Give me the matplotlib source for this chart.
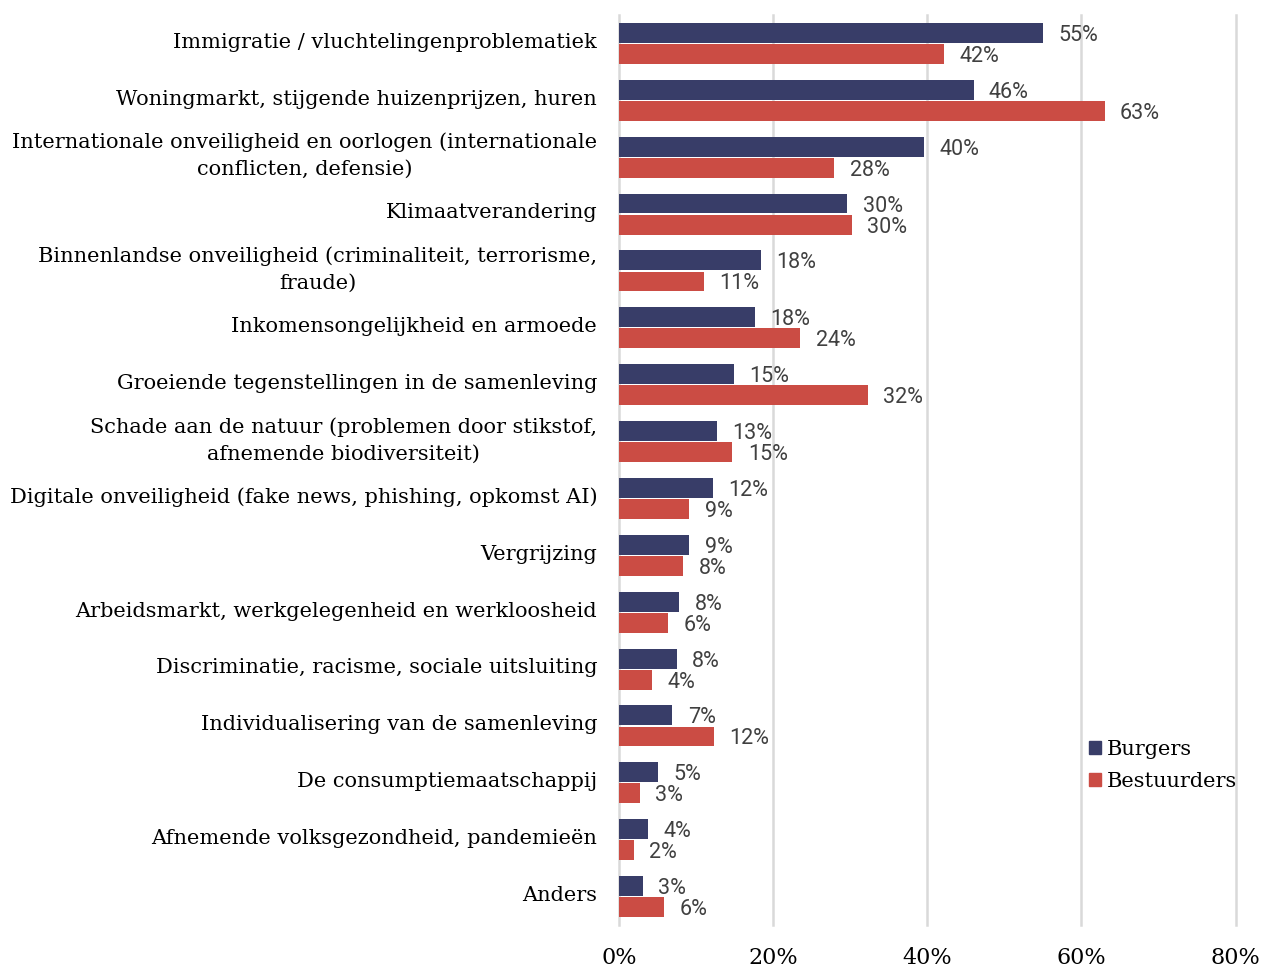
import numpy as np
import matplotlib
matplotlib.use('Agg')
import matplotlib.pyplot as plt
from matplotlib.patches import Patch

categories = [
    'Immigratie / vluchtelingenproblematiek',
    'Woningmarkt, stijgende huizenprijzen, huren',
    'Internationale onveiligheid en oorlogen (internationale\nconflicten, defensie)',
    'Klimaatverandering',
    'Binnenlandse onveiligheid (criminaliteit, terrorisme,\nfraude)',
    'Inkomensongelijkheid en armoede',
    'Groeiende tegenstellingen in de samenleving',
    'Schade aan de natuur (problemen door stikstof,\nafnemende biodiversiteit)',
    'Digitale onveiligheid (fake news, phishing, opkomst AI)',
    'Vergrijzing',
    'Arbeidsmarkt, werkgelegenheid en werkloosheid',
    'Discriminatie, racisme, sociale uitsluiting',
    'Individualisering van de samenleving',
    'De consumptiemaatschappij',
    'Afnemende volksgezondheid, pandemieën',
    'Anders',
]
burgers = [55.0, 46.0, 39.6, 29.6, 18.4, 17.6, 14.9, 12.7, 12.2, 9.1, 7.8, 7.5, 6.9, 5.1, 3.8, 3.1]
bestuurders = [42.2, 63.0, 27.9, 30.2, 11.0, 23.5, 32.3, 14.7, 9.1, 8.3, 6.4, 4.3, 12.3, 2.7, 1.9, 5.8]
series_names = ['Burgers', 'Bestuurders']
xticks = [0, 20, 40, 60, 80]

navy = '#383D68'
red = '#CB4C44'
serif = 'DejaVu Serif'
sans = 'Roboto'

fig = plt.figure(figsize=(12.66, 9.67), dpi=100)
ax = fig.add_axes([0.489, 0.0434, 0.976 - 0.489, 0.9845 - 0.0434])

y = np.arange(len(categories))
h = 0.35
off = 0.185
ax.barh(y - off, burgers, height=h, color=navy)
ax.barh(y + off, bestuurders, height=h, color=red)

for i in range(len(categories)):
    ax.text(burgers[i] + 2, y[i] - off, f'{round(burgers[i])}%', va='center_baseline', ha='left',
            fontsize=15.5, color='#404040', family=sans)
    ax.text(bestuurders[i] + 2, y[i] + off, f'{round(bestuurders[i])}%', va='center_baseline', ha='left',
            fontsize=15.5, color='#404040', family=sans)

# category labels, right aligned next to the axis
ylab_tr = ax.get_yaxis_transform()
for i, cat in enumerate(categories):
    ax.text(-0.0355, y[i] - 0.02, cat, transform=ylab_tr, ha='right', va='center',
            multialignment='center', linespacing=1.52, family=serif, fontsize=15)

ax.set_xlim(0, 80)
ax.set_ylim(len(categories) - 0.5, -0.5)
ax.set_xticks(xticks)
ax.set_xticklabels([f'{t}%' for t in xticks], family=serif, fontsize=16)
ax.set_yticks([])
ax.tick_params(axis='x', length=0, pad=16)
ax.grid(axis='x', color='#D9D9D9', linewidth=1.8)
for gl in ax.get_xgridlines():
    gl.set_clip_on(False)
ax.set_axisbelow(True)
for s in ax.spines.values():
    s.set_visible(False)

handles = [Patch(color=navy), Patch(color=red)]
fig.legend(handles, series_names, loc='upper left', bbox_to_anchor=(0.845, 0.254),
           frameon=False, handlelength=0.6, handleheight=0.6, handletextpad=0.3,
           labelspacing=0.6, prop={'family': serif, 'size': 15})

fig.savefig('out.png', dpi=100)
